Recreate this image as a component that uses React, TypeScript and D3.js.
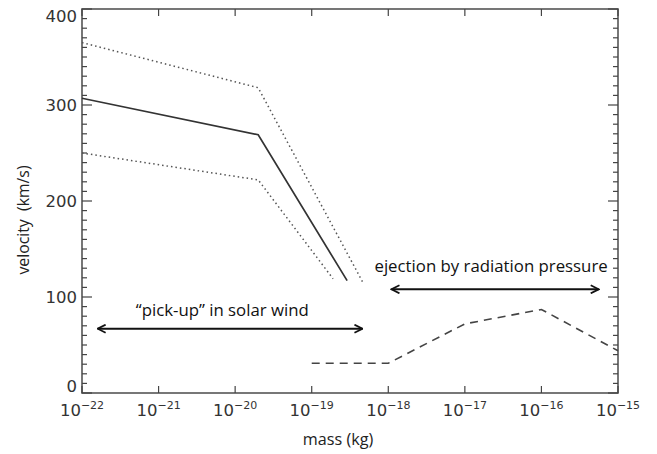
import React from 'react';
import * as d3 from 'd3';

const width = 657;
const height = 454;

// velocity vs mass
const massTicks = [1e-22, 1e-21, 1e-20, 1e-19, 1e-18, 1e-17, 1e-16, 1e-15];
const tickExponents = ['22', '21', '20', '19', '18', '17', '16', '15'];
const velocityTicks = [0, 100, 200, 300, 400];

const centralMass = [1e-22, 2e-20, 2.9e-19];
const centralVelocity = [307, 269, 117];
const upperMass = [1e-22, 2e-20, 4.6e-19];
const upperVelocity = [365, 318, 116];
const lowerMass = [1e-22, 2e-20, 1.9e-19];
const lowerVelocity = [250, 222, 119];
const radiationMass = [1e-19, 1e-18, 1e-17, 1e-16, 1e-15];
const radiationVelocity = [31, 31, 72, 87, 44];

const pickUpArrow = { from: 1.6e-22, to: 4.6e-19, v: 67 };
const ejectionArrow = { from: 1.1e-18, to: 5.6e-16, v: 108 };

class App extends React.Component {
  render() {
    const x = d3.scaleLog().domain([1e-22, 1e-15]).range([82, 618]);
    const y = d3.scaleLinear().domain([0, 400]).range([393, 9]);
    const line = d3.line<[number, number]>().x(d => x(d[0])).y(d => y(d[1]));
    const pts = (m: number[], v: number[]) => m.map((d, i) => [d, v[i]] as [number, number]);

    const minorY = d3.range(0, 401, 10).filter(d => d % 100 !== 0);
    const tickColor = '#444';
    const labelFont = '"DejaVu Sans", sans-serif';
    const textFont = '"Open Sans", sans-serif';
    // end labels sit inside the frame, like the original plot
    const labelShift = (v: number) => (v === 0 ? -7 : v === 400 ? 7 : 0);

    return (
      <svg width={width} height={height} style={{ position: 'absolute', left: 0, top: 0, background: '#fff' }}>
        <defs>
          <marker id="head" viewBox="0 0 10 10" refX="9" refY="5" markerWidth="10" markerHeight="10"
            markerUnits="userSpaceOnUse" orient="auto-start-reverse">
            <path d="M1,1 L9,5 L1,9" fill="none" stroke="#111" strokeWidth="1.8" />
          </marker>
        </defs>

        {/* frame */}
        <rect x={x(1e-22)} y={y(400)} width={x(1e-15) - x(1e-22)} height={y(0) - y(400)}
          fill="none" stroke="#555" strokeWidth="1.6" />

        {/* x ticks, bottom and top */}
        {massTicks.map((m, i) => (
          <g key={'xt' + i}>
            <line x1={x(m)} x2={x(m)} y1={y(0)} y2={y(0) - 7} stroke={tickColor} strokeWidth="1.2" />
            <line x1={x(m)} x2={x(m)} y1={y(400)} y2={y(400) + 7} stroke={tickColor} strokeWidth="1.2" />
            <text x={x(m)} y={416} textAnchor="middle" fontFamily={labelFont} fontSize="16.5" fill="#333">
              10<tspan dy="-7" fontSize="11">{'\u2212' + tickExponents[i]}</tspan>
            </text>
          </g>
        ))}

        {/* y ticks, left and right */}
        {velocityTicks.map(v => (
          <g key={'yt' + v}>
            <line x1={x(1e-22)} x2={x(1e-22) + 10} y1={y(v)} y2={y(v)} stroke={tickColor} strokeWidth="1.2" />
            <line x1={x(1e-15)} x2={x(1e-15) - 10} y1={y(v)} y2={y(v)} stroke={tickColor} strokeWidth="1.2" />
            <text x={77} y={y(v) + 6 + labelShift(v)} textAnchor="end" fontFamily={labelFont} fontSize="16.5" fill="#333">{v}</text>
          </g>
        ))}
        {minorY.map(v => (
          <g key={'ym' + v}>
            <line x1={x(1e-22)} x2={x(1e-22) + 5} y1={y(v)} y2={y(v)} stroke={tickColor} strokeWidth="1.2" />
            <line x1={x(1e-15)} x2={x(1e-15) - 5} y1={y(v)} y2={y(v)} stroke={tickColor} strokeWidth="1.2" />
          </g>
        ))}

        {/* curves */}
        <path d={line(pts(centralMass, centralVelocity)) || ''} fill="none" stroke="#333" strokeWidth="1.7" />
        <path d={line(pts(upperMass, upperVelocity)) || ''} fill="none" stroke="#555" strokeWidth="1.5" strokeDasharray="1.5,3" />
        <path d={line(pts(lowerMass, lowerVelocity)) || ''} fill="none" stroke="#555" strokeWidth="1.5" strokeDasharray="1.5,3" />
        <path d={line(pts(radiationMass, radiationVelocity)) || ''} fill="none" stroke="#444" strokeWidth="1.6" strokeDasharray="8,6" />

        {/* annotations */}
        <line x1={x(pickUpArrow.from)} x2={x(pickUpArrow.to)} y1={y(pickUpArrow.v)} y2={y(pickUpArrow.v)}
          stroke="#111" strokeWidth="2" markerStart="url(#head)" markerEnd="url(#head)" />
        <text x={x(6.8e-21)} y={y(80)} textAnchor="middle" fontFamily={textFont} fontSize="16.8" fill="#111">
          {'\u201Cpick-up\u201D in solar wind'}
        </text>
        <line x1={x(ejectionArrow.from)} x2={x(ejectionArrow.to)} y1={y(ejectionArrow.v)} y2={y(ejectionArrow.v)}
          stroke="#111" strokeWidth="2" markerStart="url(#head)" markerEnd="url(#head)" />
        <text x={x(2.2e-17)} y={y(126)} textAnchor="middle" fontFamily={textFont} fontSize="16.8" fill="#111">
          ejection by radiation pressure
        </text>

        {/* axis titles */}
        <text x={338} y={445} textAnchor="middle" fontFamily={textFont} fontSize="16.2" fill="#222">mass (kg)</text>
        <text transform="translate(29, 220) rotate(-90)" textAnchor="middle" fontFamily={textFont} fontSize="15.8" fill="#222">
          {'velocity\u00A0 (km/s)'}
        </text>
      </svg>
    );
  }
}

export default App;
